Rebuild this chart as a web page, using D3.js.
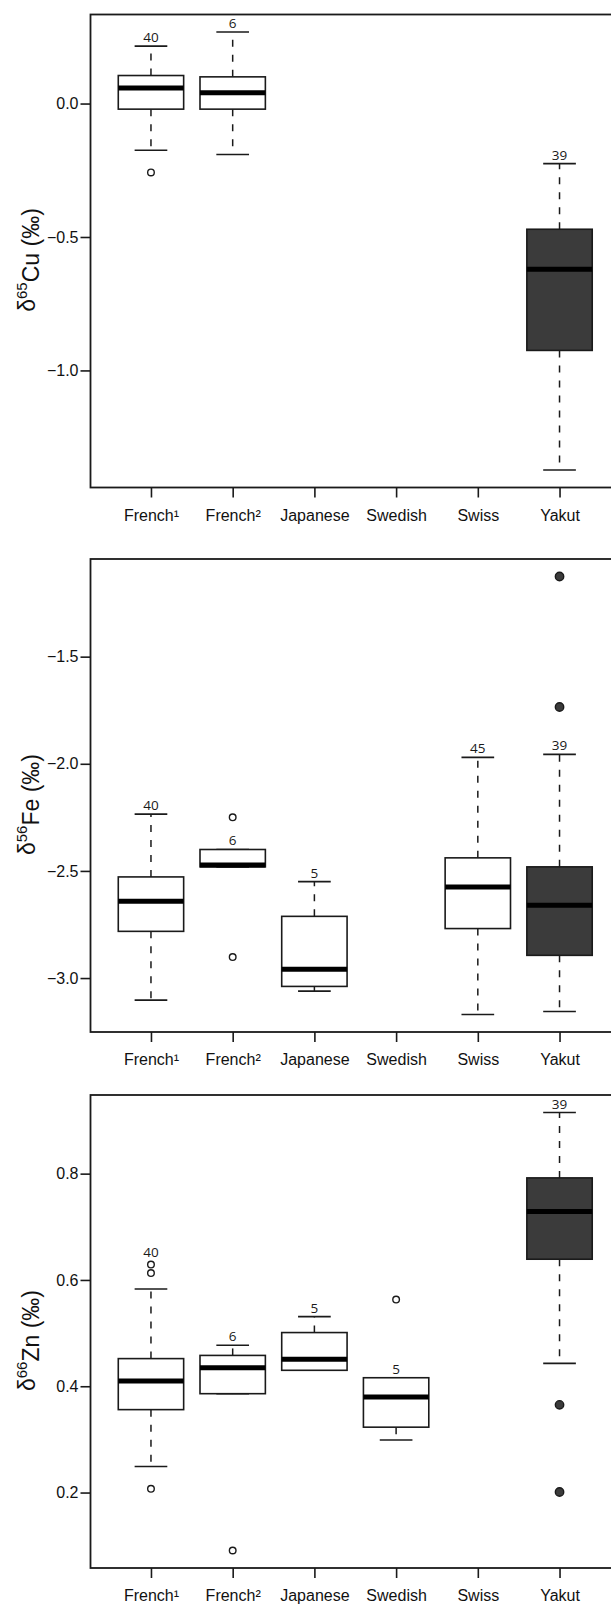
<!DOCTYPE html>
<html>
<head>
<meta charset="utf-8">
<script src="https://cdn.jsdelivr.net/npm/d3@7"></script>
<style>
  body { margin: 0; background: #fff; }
  svg { display: block; }
</style>
</head>
<body>
<div id="canvas"></div>
<script>
const groups = ["French¹", "French²", "Japanese", "Swedish", "Swiss", "Yakut"];

// each box: [lower whisker, Q1, median, Q3, upper whisker], null = no data
const cuStats = [
    [-0.175, -0.021, 0.058, 0.105, 0.215],
    [-0.191, -0.021, 0.040, 0.100, 0.268],
    null,
    null,
    null,
    [-1.373, -0.925, -0.621, -0.471, -0.225]
];
const cuOutliers = [[-0.258], [], [], [], [], []];
const cuCounts = [40, 6, null, null, null, 39];
const cuTicks = [0.0, -0.5, -1.0];

const feStats = [
    [-3.103, -2.782, -2.642, -2.528, -2.235],
    [-2.481, -2.481, -2.472, -2.400, -2.400],
    [-3.061, -3.039, -2.959, -2.712, -2.550],
    null,
    [-3.170, -2.769, -2.575, -2.439, -1.970],
    [-3.156, -2.894, -2.660, -2.481, -1.956]
];
const feOutliers = [[], [-2.250, -2.902], [], [], [], [-1.126, -1.735]];
const feCounts = [40, 6, 5, null, 45, 39];
const feTicks = [-1.5, -2.0, -2.5, -3.0];

const znStats = [
    [0.249, 0.356, 0.410, 0.452, 0.583],
    [0.386, 0.386, 0.435, 0.458, 0.477],
    [0.430, 0.430, 0.451, 0.501, 0.531],
    [0.299, 0.323, 0.380, 0.416, 0.416],
    null,
    [0.443, 0.639, 0.729, 0.792, 0.915]
];
const znOutliers = [[0.629, 0.613, 0.207], [0.091], [], [0.563], [], [0.365, 0.201]];
const znCounts = [40, 6, 5, 5, null, 39];
const znTicks = [0.2, 0.4, 0.6, 0.8];

// groups whose n label sits above the outliers rather than the whisker
const cuLabelOver = [];
const feLabelOver = [];
const znLabelOver = ["French¹"];

const panels = [
    { iso: "65", el: "Cu", stats: cuStats, outliers: cuOutliers, counts: cuCounts, ticks: cuTicks, over: cuLabelOver, top: 14.5 },
    { iso: "56", el: "Fe", stats: feStats, outliers: feOutliers, counts: feCounts, ticks: feTicks, over: feLabelOver, top: 559 },
    { iso: "66", el: "Zn", stats: znStats, outliers: znOutliers, counts: znCounts, ticks: znTicks, over: znLabelOver, top: 1095 }
];

const W = 611, H = 1604;
const left = 90.5, right = 620, plotH = 473;
const darkFill = "#3b3b3b";
const axisFont = "'Liberation Sans', Arial, Helvetica, sans-serif";

const svg = d3.select("#canvas")
    .append("svg")
    .attr("width", W)
    .attr("height", H);

const x = d3.scalePoint()
    .domain(groups)
    .range([left, right])
    .padding(0.74);
const bw = x.step() * 0.8;

function drawPanel(p) {
    const g = svg.append("g")
        .attr("transform", `translate(0,${p.top})`);

    // y range padded by 4% like R does
    const vals = p.stats.filter(d => d).flat().concat(p.outliers.flat());
    const [lo, hi] = d3.extent(vals);
    const pad = (hi - lo) * 0.04;
    const y = d3.scaleLinear()
        .domain([lo - pad, hi + pad])
        .range([plotH, 0]);

    // Draw Y axis
    const ya = g.append("g")
        .attr("transform", `translate(${left},0)`)
        .call(d3.axisLeft(y).tickValues(p.ticks).tickSize(10).tickPadding(2).tickFormat(d3.format(".1f")));
    ya.select(".domain").remove();

    // Draw X axis
    const xa = g.append("g")
        .attr("transform", `translate(0,${plotH})`)
        .call(d3.axisBottom(x).tickSize(10).tickPadding(12));
    xa.select(".domain").remove();

    [ya, xa].forEach(a => {
        a.selectAll("line").attr("stroke", "#1a1a1a").attr("stroke-width", 1.6);
        a.selectAll("text")
            .attr("fill", "#111")
            .style("font-family", axisFont)
            .style("font-size", "16px");
    });

    // Plot frame
    g.append("rect")
        .attr("x", left)
        .attr("y", 0)
        .attr("width", right - left)
        .attr("height", plotH)
        .attr("fill", "none")
        .attr("stroke", "#1a1a1a")
        .attr("stroke-width", 1.8);

    // Y title
    const title = g.append("text")
        .attr("transform", `translate(35,${plotH / 2 + 9}) rotate(-90)`)
        .attr("text-anchor", "middle")
        .attr("fill", "#111")
        .style("font-family", axisFont)
        .style("font-size", "23px");
    title.append("tspan").text("δ");
    title.append("tspan").attr("dy", "-0.55em").style("font-size", "15px").text(p.iso);
    title.append("tspan").attr("dy", "0.55em").text(p.el + " (‰)");

    p.stats.forEach((s, i) => {
        if (!s) return;
        const cx = x(groups[i]);
        const fill = groups[i] === "Yakut" ? darkFill : "#fff";
        const box = g.append("g");

        // Draw Whiskers
        [[s[3], s[4]], [s[1], s[0]]].forEach(([a, b]) => {
            box.append("line")
                .attr("x1", cx).attr("x2", cx)
                .attr("y1", y(a)).attr("y2", y(b))
                .attr("stroke", "#1a1a1a")
                .attr("stroke-width", 1.5)
                .attr("stroke-dasharray", "7,8");
            box.append("line")
                .attr("x1", cx - bw / 4).attr("x2", cx + bw / 4)
                .attr("y1", y(b)).attr("y2", y(b))
                .attr("stroke", "#1a1a1a")
                .attr("stroke-width", 1.6);
        });

        // Draw Box
        box.append("rect")
            .attr("x", cx - bw / 2)
            .attr("y", y(s[3]))
            .attr("width", bw)
            .attr("height", y(s[1]) - y(s[3]))
            .attr("fill", fill)
            .attr("stroke", "#1a1a1a")
            .attr("stroke-width", 1.6);

        // Draw Median
        box.append("line")
            .attr("x1", cx - bw / 2).attr("x2", cx + bw / 2)
            .attr("y1", y(s[2])).attr("y2", y(s[2]))
            .attr("stroke", "#000")
            .attr("stroke-width", 5);

        // Draw Outliers
        box.selectAll("circle")
            .data(p.outliers[i])
            .join("circle")
            .attr("cx", cx)
            .attr("cy", d => y(d))
            .attr("r", groups[i] === "Yakut" ? 4.2 : 3.3)
            .attr("fill", groups[i] === "Yakut" ? darkFill : "#fff")
            .attr("stroke", "#1a1a1a")
            .attr("stroke-width", 1.4);

        // Draw n label
        if (p.counts[i] != null) {
            let ay = y(s[4]);
            if (p.over.includes(groups[i])) ay = y(d3.max(p.outliers[i])) - 3.5;
            box.append("text")
                .attr("x", cx)
                .attr("y", ay - 4)
                .attr("text-anchor", "middle")
                .attr("fill", "#1a1a1a")
                .style("font-family", "'Open Sans', sans-serif")
                .style("font-size", "13.5px")
                .text(p.counts[i]);
        }
    });
}

panels.forEach(drawPanel);
</script>
</body>
</html>
